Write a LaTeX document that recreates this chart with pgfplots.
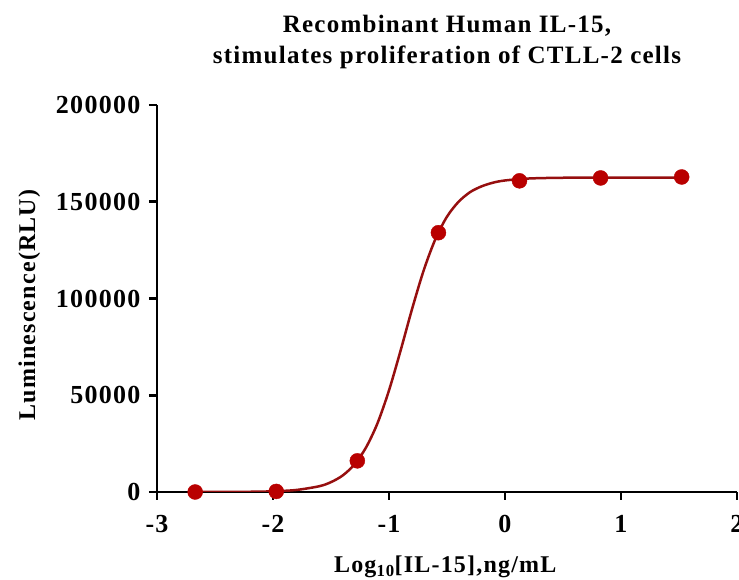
\documentclass[border=0pt]{standalone}
\usepackage{fontspec}
\setmainfont{Liberation Serif}[LetterSpace=5]
\usepackage{pgfplots}
\pgfplotsset{compat=1.18}
\definecolor{curvered}{RGB}{150,15,15}
\definecolor{dotred}{RGB}{185,0,0}

\begin{document}
\begin{tikzpicture}
\useasboundingbox (-157pt,-88pt) rectangle (582pt,492pt);
\begin{axis}[
    at={(0pt,0pt)}, anchor=south west,
    scale only axis,
    width=580pt, height=387pt,
    xmin=-3, xmax=2,
    ymin=0, ymax=200000,
    xtick distance=1,
    ytick distance=50000,
    axis x line*=bottom,
    axis y line*=left,
    axis line style={line width=2.8pt},
    every tick/.style={black, line width=2.8pt},
    major tick length=8pt,
    tick align=outside,
    scaled y ticks=false,
    /pgf/number format/assume math mode=true,
    yticklabel style={/pgf/number format/fixed, /pgf/number format/1000 sep={}, xshift=-5pt},
    xticklabel style={yshift=-12pt},
    ticklabel style={font=\fontsize{26}{26}\selectfont\bfseries},
    title={Recombinant Human IL-15,\\stimulates proliferation of CTLL-2 cells},
    title style={at={(axis description cs:0.5,1)}, anchor=south, yshift=30pt,
        inner sep=0pt, align=center, font=\fontsize{25}{31}\selectfont\bfseries},
    xlabel={Log\textsubscript{10}[IL-15],ng/mL},
    xlabel style={at={(axis description cs:0.497,-0.2093)}, anchor=base,
        font=\fontsize{24}{24}\selectfont\bfseries},
    ylabel={Luminescence(RLU)},
    ylabel style={at={(axis description cs:-0.21,0.483)}, anchor=base,
        font=\fontsize{24}{24}\selectfont\bfseries},
]

% fitted curve
\addplot[curvered, line width=2.5pt, smooth] coordinates {
    (-2.67,0) (-2.4,60) (-2.2,120) (-2.0,360) (-1.8,1040) (-1.6,3000)
    (-1.5,5100) (-1.4,8500) (-1.3,14100) (-1.2,22800) (-1.1,35400)
    (-1.0,52500) (-0.9,73100) (-0.8,94800) (-0.7,114700) (-0.6,130700)
    (-0.5,142300) (-0.4,150000) (-0.3,155000) (-0.2,158000) (-0.1,159900)
    (0.0,161000) (0.2,162000) (0.5,162400) (1.0,162500) (1.52,162500)
};

% measured points
\addplot[only marks, mark=*, mark size=7.5pt,
    mark options={fill=dotred, draw=dotred}] coordinates {
    (-2.671,0) (-1.972,300) (-1.273,16100) (-0.574,134000)
    (0.125,160800) (0.824,162300) (1.523,162800)
};

\end{axis}
\end{tikzpicture}
\end{document}
